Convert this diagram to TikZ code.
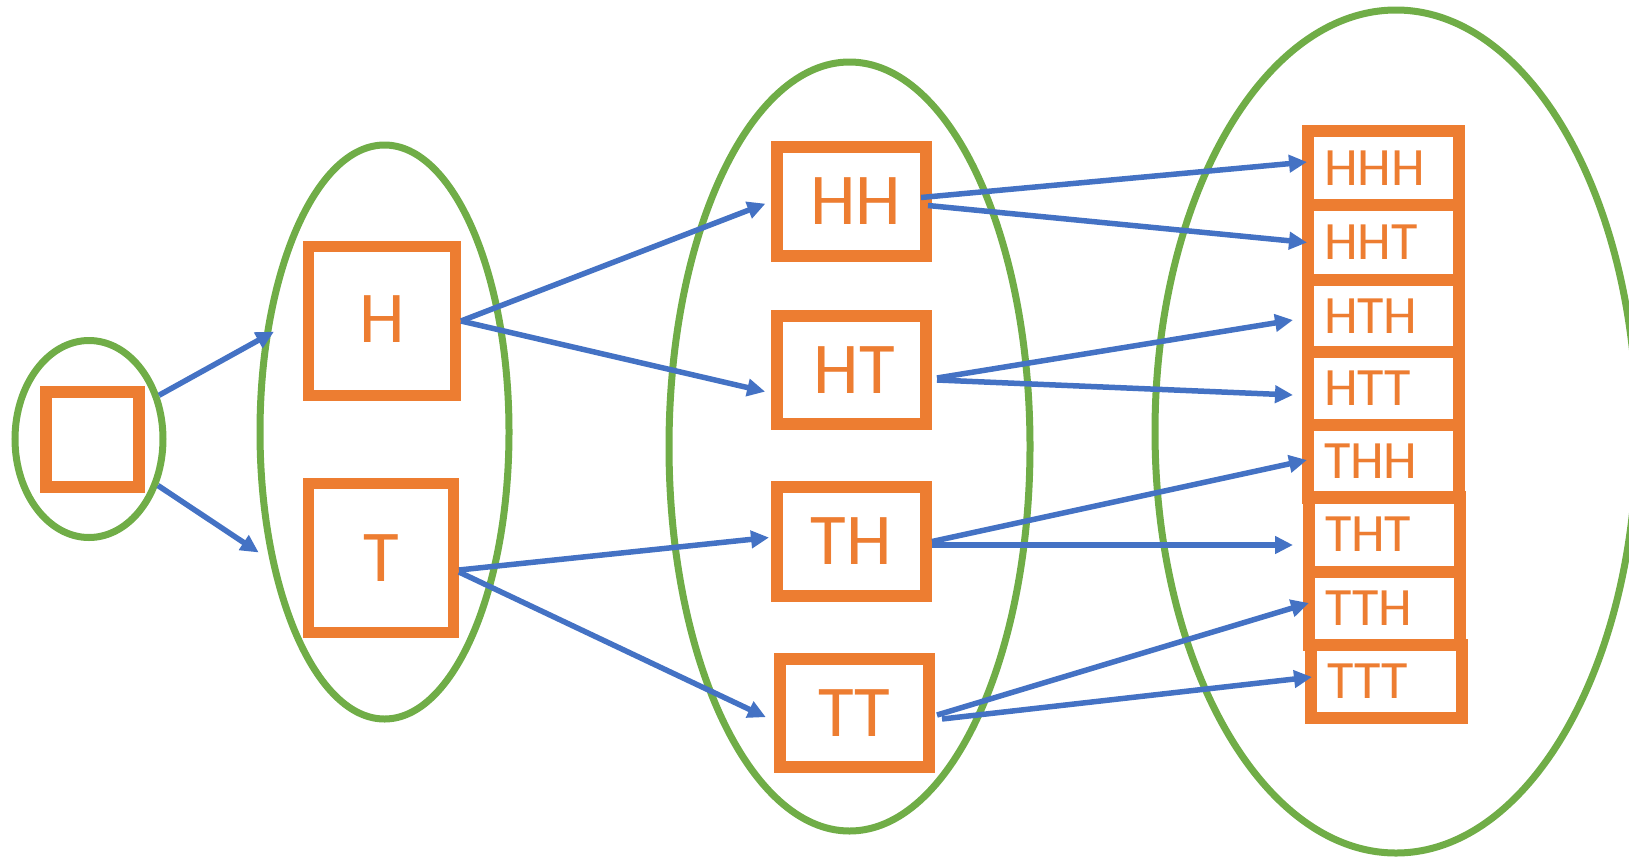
\documentclass[tikz,border=0pt]{standalone}
\usepackage{fontspec}
\setmainfont{Carlito}
\usetikzlibrary{arrows.meta,shapes.geometric}
\definecolor{orng}{HTML}{ED7D31}
\definecolor{grn}{HTML}{70AD47}
\definecolor{blu}{HTML}{4472C4}
\begin{document}
\begin{tikzpicture}[x=1pt,y=-1pt,
  grp/.style={ellipse,draw=grn,line width=7pt,inner sep=0pt},
  box/.style={rectangle,draw=orng,line width=12pt,inner sep=0pt,text=orng},
  big/.style={font=\fontsize{73}{80}\selectfont},
  small/.style={font=\fontsize{54}{60}\selectfont,text width=119pt,inner xsep=16pt,align=left},
  link/.style={draw=blu,line width=5.5pt,-{Triangle[length=18pt,width=17pt]}}]
\useasboundingbox (0,0) rectangle (1629,857);
\clip (0,0) rectangle (1629,857);
% groups
\node[grp,minimum width=148pt,minimum height=197pt] (E1) at (89,439) {};
\node[grp,minimum width=249pt,minimum height=574pt] (E2) at (384.5,432) {};
\node[grp,minimum width=361pt,minimum height=769pt] (E3) at (849.5,446.5) {};
\node[grp,minimum width=482pt,minimum height=843pt] (E4) at (1396,431.5) {};
% boxes
\node[box,minimum width=93pt,minimum height=95pt] (root) at (92.5,439.5) {};
\node[box,big,line width=11pt,minimum width=147pt,minimum height=149pt] (H) at (382,321) {\raisebox{3pt}{H}};
\node[box,big,line width=11pt,minimum width=145pt,minimum height=149pt] (T) at (381,558) {T};
\node[box,big,minimum width=149pt,minimum height=109pt] (HH) at (851.5,201.5) {\hspace*{8pt}HH};
\node[box,big,minimum width=149pt,minimum height=108pt] (HT) at (851.5,370) {\hspace*{6pt}HT};
\node[box,big,minimum width=149pt,minimum height=109pt] (TH) at (851.5,541.5) {TH};
\node[box,big,minimum width=149pt,minimum height=108pt] (TT) at (854.5,713) {TT};
\node[box,small,minimum height=74pt] (HHH) at (1383.5,168) {HHH};
\node[box,small,minimum height=75pt] (HHT) at (1383.5,242.5) {HHT};
\node[box,small,minimum height=72pt] (HTH) at (1383.5,316) {HTH};
\node[box,small,minimum height=73pt] (HTT) at (1383.5,388.5) {HTT};
\node[box,small,minimum height=73pt] (THH) at (1383.5,461.5) {THH};
\node[box,small,minimum height=75pt] (THT) at (1384.5,534.5) {THT};
\node[box,small,minimum height=73pt] (TTH) at (1384.5,608.5) {TTH};
\node[box,small,minimum height=73pt] (TTT) at (1386.5,681.5) {TTT};
% connectors
\draw[link,shorten >=-12pt] (E1.32) -- (E2.142);
\draw[link,shorten >=13pt] (E1.326) -- (E2.228);
\draw[link,shorten >=6pt] (H.east) -- (HH.west);
\draw[link,shorten >=6pt] (H.east) -- ([yshift=-23pt]HT.west);
\draw[link] ([yshift=-12pt]T.east) -- ([xshift=-2pt,yshift=4pt]TH.west);
\draw[link,shorten >=9pt] ([yshift=-14pt]T.east) -- ([yshift=-8pt]TT.west);
\draw[link] ([xshift=-11pt,yshift=4pt]HH.east) -- ([xshift=5pt,yshift=6pt]HHH.west);
\draw[link] ([xshift=-4pt,yshift=-4pt]HH.east) -- ([xshift=5pt]HHT.west);
\draw[link] ([xshift=5pt,yshift=-8pt]HT.east) -- ([xshift=-9pt,yshift=-4pt]HTH.west);
\draw[link] ([xshift=5pt,yshift=-10pt]HT.east) -- ([xshift=-9pt,yshift=-6.5pt]HTT.west);
\draw[link] (TH.east) -- ([xshift=5pt,yshift=1.5pt]THH.west);
\draw[link] ([yshift=-3.5pt]TH.east) -- ([xshift=-10pt,yshift=-10.5pt]THT.west);
\draw[link] ([xshift=2pt,yshift=-2pt]TT.east) -- ([xshift=6pt,yshift=5.5pt]TTH.west);
\draw[link] ([xshift=7pt,yshift=-6pt]TT.east) -- ([xshift=7pt,yshift=4.5pt]TTT.west);
\end{tikzpicture}
\end{document}
